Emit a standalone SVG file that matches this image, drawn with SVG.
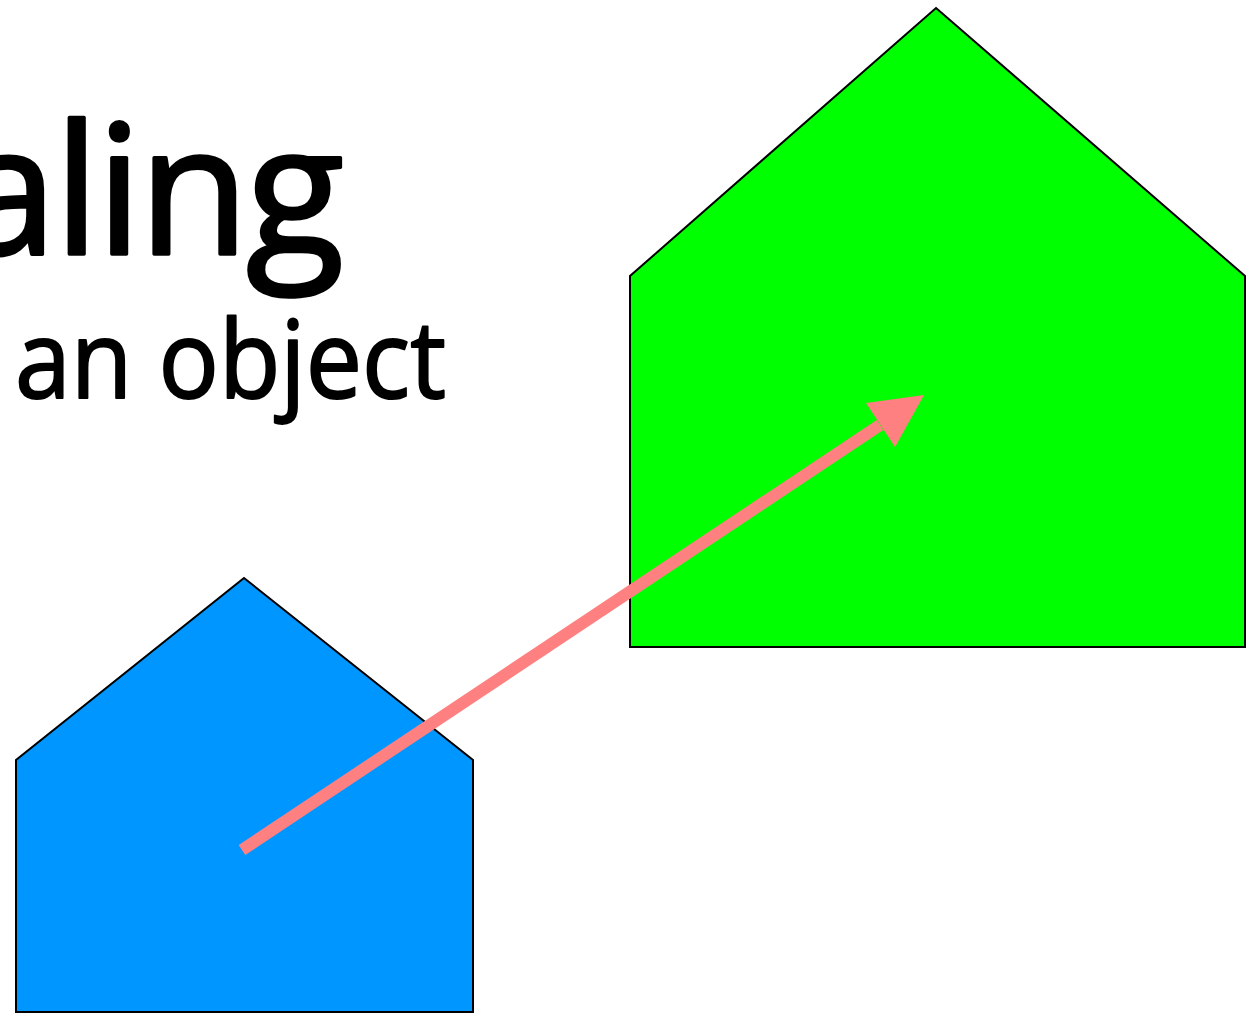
<svg xmlns="http://www.w3.org/2000/svg" width="1257" height="1013" viewBox="0 0 1257 1013">
<style>
.house{stroke:#000;stroke-width:2;stroke-linejoin:miter}
.title{font-family:"Open Sans",Lato,"Liberation Sans",sans-serif;fill:#000;stroke:#000;stroke-linejoin:round}
</style>
<rect width="1257" height="1013" fill="#fff"/>
<g id="title">
<text class="title" x="341" y="254" font-size="180" text-anchor="end" letter-spacing="-3" stroke-width="3.5">aling</text>
<text class="title" x="15" y="398" font-size="108" textLength="431" lengthAdjust="spacingAndGlyphs" stroke-width="2">an object</text>
</g>
<g id="green-house">
<polygon class="house" fill="#00ff00" points="936,8 1245,276 1245,647 630,647 630,276"/>
</g>
<g id="blue-house">
<polygon class="house" fill="#0096ff" points="244,578 473,760 473,1012 16,1012 16,760"/>
</g>
<g id="connectors">
<line x1="242" y1="850" x2="880" y2="425" stroke="#ff8080" stroke-width="12"/>
<polygon fill="#ff8080" points="924,395 866,403 895,447"/>
</g>
</svg>
